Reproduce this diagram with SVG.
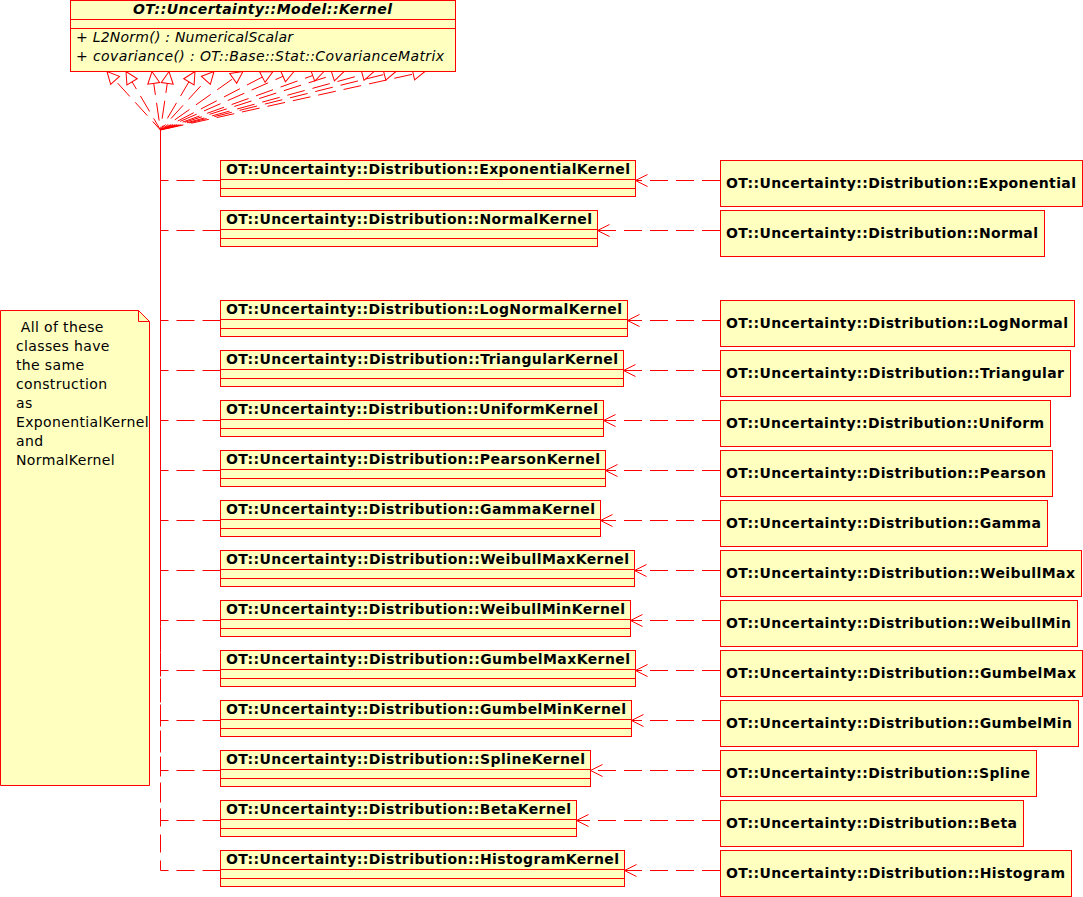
<svg xmlns="http://www.w3.org/2000/svg" width="1083" height="897" viewBox="0 0 1083 897">
<style>
.box{fill:#ffffc0;stroke:#ff0000;stroke-width:1}
.ln{fill:none;stroke:#ff0000;stroke-width:1}
.dash{fill:none;stroke:#ff0000;stroke-width:1;stroke-dasharray:18,8}
.gen{marker-end:url(#tri)}
.dep{marker-end:url(#vee)}
.t{font-family:"DejaVu Sans",sans-serif;font-size:14px;fill:#000}
.n{letter-spacing:0.36px}
.b{font-weight:bold}
.i{font-style:italic}
</style>
<defs>
<marker id="tri" markerUnits="userSpaceOnUse" markerWidth="14" markerHeight="14" refX="12" refY="6" orient="auto" overflow="visible">
<path d="M0,0 L12,6 L0,12 Z" fill="#fff" stroke="#ff0000" stroke-width="1" stroke-dasharray="none"/>
</marker>
<marker id="vee" markerUnits="userSpaceOnUse" markerWidth="14" markerHeight="14" refX="12" refY="6" orient="auto" overflow="visible">
<path d="M0,0 L12,6 L0,12" fill="none" stroke="#ff0000" stroke-width="1" stroke-dasharray="none"/>
</marker>
</defs>
<g id="connectors">
<path class="dash gen" d="M220.5,180.5 H160.5 V130 L107,71.5"/>
<path class="dash gen" d="M220.5,230.5 H160.5 V130 L126,71.5"/>
<path class="dash gen" d="M220.5,320.5 H160.5 V130 L152,71.5"/>
<path class="dash gen" d="M220.5,370.5 H160.5 V130 L169,71.5"/>
<path class="dash gen" d="M220.5,420.5 H160.5 V130 L195,71.5"/>
<path class="dash gen" d="M220.5,470.5 H160.5 V130 L214,71.5"/>
<path class="dash gen" d="M220.5,520.5 H160.5 V130 L243,71.5"/>
<path class="dash gen" d="M220.5,570.5 H160.5 V130 L273,71.5"/>
<path class="dash gen" d="M220.5,620.5 H160.5 V130 L294,71.5"/>
<path class="dash gen" d="M220.5,670.5 H160.5 V130 L324,71.5"/>
<path class="dash gen" d="M220.5,720.5 H160.5 V130 L344,71.5"/>
<path class="dash gen" d="M220.5,770.5 H160.5 V130 L374,71.5"/>
<path class="dash gen" d="M220.5,820.5 H160.5 V130 L396,71.5"/>
<path class="dash gen" d="M220.5,870.5 H160.5 V130 L425,71.5"/>
<path class="dash dep" d="M720,180.5 H635.5"/>
<path class="dash dep" d="M720,230.5 H597.5"/>
<path class="dash dep" d="M720,320.5 H627.5"/>
<path class="dash dep" d="M720,370.5 H623.5"/>
<path class="dash dep" d="M720,420.5 H603.5"/>
<path class="dash dep" d="M720,470.5 H605.5"/>
<path class="dash dep" d="M720,520.5 H600.5"/>
<path class="dash dep" d="M720,570.5 H634.5"/>
<path class="dash dep" d="M720,620.5 H630.5"/>
<path class="dash dep" d="M720,670.5 H635.5"/>
<path class="dash dep" d="M720,720.5 H631.5"/>
<path class="dash dep" d="M720,770.5 H590.5"/>
<path class="dash dep" d="M720,820.5 H576.5"/>
<path class="dash dep" d="M720,870.5 H624.5"/>
</g>
<g id="Kernel">
<rect class="box" x="70.5" y="0.5" width="385" height="71"/>
<line class="ln" x1="70.5" y1="19.5" x2="455.5" y2="19.5"/>
<line class="ln" x1="70.5" y1="28.5" x2="455.5" y2="28.5"/>
<text class="t b i" x="262.5" y="14" text-anchor="middle" textLength="259">OT::Uncertainty::Model::Kernel</text>
<text class="t i" x="76" y="42" textLength="217">+ L2Norm() : NumericalScalar</text>
<text class="t i" x="76" y="61" textLength="368">+ covariance() : OT::Base::Stat::CovarianceMatrix</text>
</g>
<g id="note">
<path class="box" d="M0.5,310.5 H138.5 L149.5,321.5 V785.5 H0.5 Z"/>
<path class="ln" d="M138.5,310.5 V321.5 H149.5"/>
<text class="t n" x="16" y="332" xml:space="preserve"> All of these</text>
<text class="t n" x="16" y="351">classes have</text>
<text class="t n" x="16" y="370">the same</text>
<text class="t n" x="16" y="389">construction</text>
<text class="t n" x="16" y="408">as</text>
<text class="t n" x="16" y="427">ExponentialKernel</text>
<text class="t n" x="16" y="446">and</text>
<text class="t n" x="16" y="465">NormalKernel</text>
</g>
<g id="ExponentialKernel"><rect class="box" x="220.5" y="160.5" width="415" height="36"/><path class="ln" d="M220.5,179.5 H635.5 M220.5,188.5 H635.5"/><text class="t b" x="226" y="174" textLength="404">OT::Uncertainty::Distribution::ExponentialKernel</text></g>
<g id="NormalKernel"><rect class="box" x="220.5" y="210.5" width="377" height="36"/><path class="ln" d="M220.5,229.5 H597.5 M220.5,238.5 H597.5"/><text class="t b" x="226" y="224" textLength="366">OT::Uncertainty::Distribution::NormalKernel</text></g>
<g id="LogNormalKernel"><rect class="box" x="220.5" y="300.5" width="407" height="36"/><path class="ln" d="M220.5,319.5 H627.5 M220.5,328.5 H627.5"/><text class="t b" x="226" y="314" textLength="396">OT::Uncertainty::Distribution::LogNormalKernel</text></g>
<g id="TriangularKernel"><rect class="box" x="220.5" y="350.5" width="403" height="36"/><path class="ln" d="M220.5,369.5 H623.5 M220.5,378.5 H623.5"/><text class="t b" x="226" y="364" textLength="392">OT::Uncertainty::Distribution::TriangularKernel</text></g>
<g id="UniformKernel"><rect class="box" x="220.5" y="400.5" width="383" height="36"/><path class="ln" d="M220.5,419.5 H603.5 M220.5,428.5 H603.5"/><text class="t b" x="226" y="414" textLength="372">OT::Uncertainty::Distribution::UniformKernel</text></g>
<g id="PearsonKernel"><rect class="box" x="220.5" y="450.5" width="385" height="36"/><path class="ln" d="M220.5,469.5 H605.5 M220.5,478.5 H605.5"/><text class="t b" x="226" y="464" textLength="374">OT::Uncertainty::Distribution::PearsonKernel</text></g>
<g id="GammaKernel"><rect class="box" x="220.5" y="500.5" width="380" height="36"/><path class="ln" d="M220.5,519.5 H600.5 M220.5,528.5 H600.5"/><text class="t b" x="226" y="514" textLength="369">OT::Uncertainty::Distribution::GammaKernel</text></g>
<g id="WeibullMaxKernel"><rect class="box" x="220.5" y="550.5" width="414" height="36"/><path class="ln" d="M220.5,569.5 H634.5 M220.5,578.5 H634.5"/><text class="t b" x="226" y="564" textLength="403">OT::Uncertainty::Distribution::WeibullMaxKernel</text></g>
<g id="WeibullMinKernel"><rect class="box" x="220.5" y="600.5" width="410" height="36"/><path class="ln" d="M220.5,619.5 H630.5 M220.5,628.5 H630.5"/><text class="t b" x="226" y="614" textLength="399">OT::Uncertainty::Distribution::WeibullMinKernel</text></g>
<g id="GumbelMaxKernel"><rect class="box" x="220.5" y="650.5" width="415" height="36"/><path class="ln" d="M220.5,669.5 H635.5 M220.5,678.5 H635.5"/><text class="t b" x="226" y="664" textLength="404">OT::Uncertainty::Distribution::GumbelMaxKernel</text></g>
<g id="GumbelMinKernel"><rect class="box" x="220.5" y="700.5" width="411" height="36"/><path class="ln" d="M220.5,719.5 H631.5 M220.5,728.5 H631.5"/><text class="t b" x="226" y="714" textLength="400">OT::Uncertainty::Distribution::GumbelMinKernel</text></g>
<g id="SplineKernel"><rect class="box" x="220.5" y="750.5" width="370" height="36"/><path class="ln" d="M220.5,769.5 H590.5 M220.5,778.5 H590.5"/><text class="t b" x="226" y="764" textLength="359">OT::Uncertainty::Distribution::SplineKernel</text></g>
<g id="BetaKernel"><rect class="box" x="220.5" y="800.5" width="356" height="36"/><path class="ln" d="M220.5,819.5 H576.5 M220.5,828.5 H576.5"/><text class="t b" x="226" y="814" textLength="345">OT::Uncertainty::Distribution::BetaKernel</text></g>
<g id="HistogramKernel"><rect class="box" x="220.5" y="850.5" width="404" height="36"/><path class="ln" d="M220.5,869.5 H624.5 M220.5,878.5 H624.5"/><text class="t b" x="226" y="864" textLength="393">OT::Uncertainty::Distribution::HistogramKernel</text></g>
<g id="Exponential"><rect class="box" x="720.5" y="160.5" width="362" height="46"/><text class="t b" x="726" y="188" textLength="350">OT::Uncertainty::Distribution::Exponential</text></g>
<g id="Normal"><rect class="box" x="720.5" y="210.5" width="324" height="46"/><text class="t b" x="726" y="238" textLength="312">OT::Uncertainty::Distribution::Normal</text></g>
<g id="LogNormal"><rect class="box" x="720.5" y="300.5" width="354" height="46"/><text class="t b" x="726" y="328" textLength="342">OT::Uncertainty::Distribution::LogNormal</text></g>
<g id="Triangular"><rect class="box" x="720.5" y="350.5" width="350" height="46"/><text class="t b" x="726" y="378" textLength="338">OT::Uncertainty::Distribution::Triangular</text></g>
<g id="Uniform"><rect class="box" x="720.5" y="400.5" width="330" height="46"/><text class="t b" x="726" y="428" textLength="318">OT::Uncertainty::Distribution::Uniform</text></g>
<g id="Pearson"><rect class="box" x="720.5" y="450.5" width="332" height="46"/><text class="t b" x="726" y="478" textLength="320">OT::Uncertainty::Distribution::Pearson</text></g>
<g id="Gamma"><rect class="box" x="720.5" y="500.5" width="327" height="46"/><text class="t b" x="726" y="528" textLength="315">OT::Uncertainty::Distribution::Gamma</text></g>
<g id="WeibullMax"><rect class="box" x="720.5" y="550.5" width="361" height="46"/><text class="t b" x="726" y="578" textLength="349">OT::Uncertainty::Distribution::WeibullMax</text></g>
<g id="WeibullMin"><rect class="box" x="720.5" y="600.5" width="357" height="46"/><text class="t b" x="726" y="628" textLength="345">OT::Uncertainty::Distribution::WeibullMin</text></g>
<g id="GumbelMax"><rect class="box" x="720.5" y="650.5" width="362" height="46"/><text class="t b" x="726" y="678" textLength="350">OT::Uncertainty::Distribution::GumbelMax</text></g>
<g id="GumbelMin"><rect class="box" x="720.5" y="700.5" width="358" height="46"/><text class="t b" x="726" y="728" textLength="346">OT::Uncertainty::Distribution::GumbelMin</text></g>
<g id="Spline"><rect class="box" x="720.5" y="750.5" width="316" height="46"/><text class="t b" x="726" y="778" textLength="304">OT::Uncertainty::Distribution::Spline</text></g>
<g id="Beta"><rect class="box" x="720.5" y="800.5" width="303" height="46"/><text class="t b" x="726" y="828" textLength="291">OT::Uncertainty::Distribution::Beta</text></g>
<g id="Histogram"><rect class="box" x="720.5" y="850.5" width="351" height="46"/><text class="t b" x="726" y="878" textLength="339">OT::Uncertainty::Distribution::Histogram</text></g>
</svg>
